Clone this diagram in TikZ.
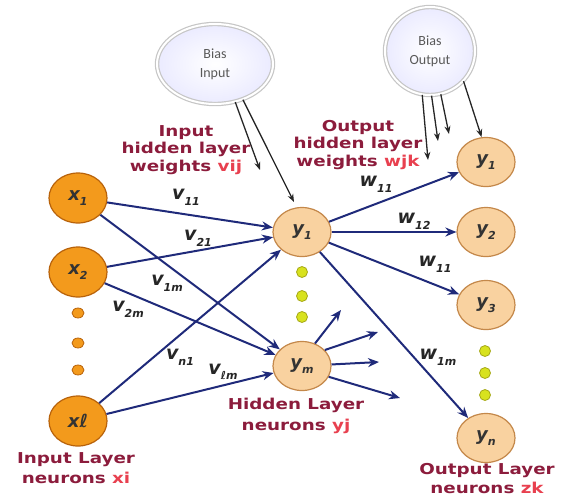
\documentclass[tikz,border=0pt]{standalone}
\usepackage{fontspec}
\setmainfont{DejaVu Sans}
\newfontfamily\lblfont{DejaVu Sans}[FakeStretch=1.22]
\newfontfamily\biasfont{Carlito}
\usetikzlibrary{shapes.geometric,arrows.meta}
\definecolor{navy}{HTML}{1F2A7A}
\definecolor{maroonlbl}{HTML}{8C1C3C}
\definecolor{hl}{HTML}{E8404F}
\definecolor{inorange}{HTML}{F39A1C}
\definecolor{inborder}{HTML}{B8620A}
\definecolor{peach}{HTML}{F9D2A0}
\definecolor{peachborder}{HTML}{C4884A}
\definecolor{ydot}{HTML}{D8E21E}
\definecolor{ydotborder}{HTML}{A6A818}
\newcommand\sbs[1]{\raisebox{-0.3em}{\fontsize{11}{11}\selectfont #1}}
\tikzset{
  inneuron/.style={ellipse, fill=inorange, draw=inborder, line width=1.2pt,
    minimum width=58pt, minimum height=50pt, inner sep=0pt,
    font=\bfseries\itshape\fontsize{18}{18}\selectfont, text=black!80},
  peachneuron/.style={ellipse, fill=peach, draw=peachborder, line width=1.2pt,
    minimum width=58pt, minimum height=49pt, inner sep=0pt,
    font=\bfseries\itshape\fontsize{18}{18}\selectfont, text=black!80},
  indot/.style={ellipse, fill=inorange, draw=inborder, line width=0.8pt,
    minimum width=12pt, minimum height=10pt, inner sep=0pt},
  ydotnode/.style={circle, fill=ydot, draw=ydotborder, line width=0.8pt,
    minimum size=11pt, inner sep=0pt},
  biasnode/.style={ellipse, draw=gray!45, line width=1.2pt, double=white,
    double distance=2pt, inner color=white, outer color=blue!8!white,
    inner sep=0pt, align=center, font=\biasfont\fontsize{14}{19}\selectfont,
    text=gray!70!black},
  layerlbl/.style={align=center, inner sep=0pt, text=maroonlbl,
    font=\lblfont\bfseries\fontsize{15}{17.5}\selectfont},
  wlab/.style={inner sep=0pt, text=black!85,
    font=\bfseries\itshape\fontsize{19}{19}\selectfont},
  conn/.style={navy, line width=2pt, -{Stealth[length=11pt,width=9pt]}},
  biasarrow/.style={black!85, line width=1.3pt, -{Stealth[length=8pt,width=6pt]}}
}
\begin{document}
\begin{tikzpicture}[x=1pt,y=-1pt]
\useasboundingbox (0,0) rectangle (562,499);
% bias ellipses
\node[biasnode, minimum width=116pt, minimum height=80pt] (bi) at (215,64) {Bias\\Input};
\node[biasnode, minimum width=90pt, minimum height=88pt] (bo) at (430,51) {Bias\\Output};
% input layer
\node[inneuron] (x1) at (78,198) {x\sbs{1}};
\node[inneuron] (x2) at (78,272) {x\sbs{2}};
\node[inneuron] (xl) at (78,421) {xℓ};
\node[indot] (id1) at (78,313) {};
\node[indot] (id2) at (78,343) {};
\node[indot] (id3) at (78,370) {};
% hidden layer
\node[peachneuron] (h1) at (302,232) {y\sbs{1}};
\node[peachneuron] (hm) at (302,366) {y\sbs{m}};
\node[ydotnode] (hd1) at (302,272) {};
\node[ydotnode] (hd2) at (302,296) {};
\node[ydotnode] (hd3) at (302,317) {};
% output layer
\node[peachneuron] (o1) at (486,162) {y\sbs{1}};
\node[peachneuron] (o2) at (486,232) {y\sbs{2}};
\node[peachneuron] (o3) at (486,305) {y\sbs{3}};
\node[peachneuron] (on) at (486,438) {y\sbs{n}};
\node[ydotnode] (od1) at (485,351) {};
\node[ydotnode] (od2) at (485,373) {};
\node[ydotnode] (od3) at (485,395) {};
% input -> hidden
\draw[conn] (x1) -- (h1);
\draw[conn] (x1) -- (hm);
\draw[conn] (x2) -- (h1);
\draw[conn] (x2) -- (hm);
\draw[conn] (xl) -- (h1);
\draw[conn] (xl) -- (hm);
% hidden -> output
\draw[conn] (h1) -- (o1);
\draw[conn, line width=2.6pt] (h1) -- (o2);
\draw[conn] (h1) -- (o3);
\draw[conn] (h1) -- (on);
% stubs from ym
\coordinate (s1) at (341,310);
\coordinate (s2) at (378,332);
\coordinate (s3) at (379,362);
\coordinate (s4) at (400,398);
\draw[conn] (hm.60) -- (s1);
\draw[conn] (hm.35) -- (s2);
\draw[conn] (hm.3) -- (s3);
\draw[conn] (hm.-22) -- (s4);
% bias arrows
\coordinate (bt1) at (260,170);
\coordinate (bt2) at (294,202);
\draw[biasarrow] (bi.-62) -- (bt1);
\draw[biasarrow] (bi.-52) -- (bt2);
\coordinate (bt3) at (428,160);
\coordinate (bt4) at (438,141);
\coordinate (bt5) at (449,134);
\draw[biasarrow] (bo.-100) -- (bt3);
\draw[biasarrow] (bo.-88) -- (bt4);
\draw[biasarrow] (bo.-76) -- (bt5);
\draw[biasarrow] (bo.-42) -- (o1.100);
% weight labels
\node[wlab] (lv11) at (186,197) {v\sbs{11}};
\node[wlab] (lv21) at (198,238) {v\sbs{21}};
\node[wlab] (lv1m) at (167,283) {v\sbs{1m}};
\node[wlab] (lv2m) at (128,309) {v\sbs{2m}};
\node[wlab] (lvn1) at (180,357) {v\sbs{n1}};
\node[wlab] (lvlm) at (223,372) {v\sbs{ℓm}};
\node[wlab] (lw11) at (376,184) {w\sbs{11}};
\node[wlab] (lw12) at (414,221) {w\sbs{12}};
\node[wlab] (lw13) at (435,264) {w\sbs{11}};
\node[wlab] (lw1m) at (438,357) {w\sbs{1m}};
% layer labels
\node[layerlbl] (lih) at (186,150) {Input\\hidden layer\\weights \textcolor{hl}{vij}};
\node[layerlbl] (loh) at (358,145) {Output\\hidden layer\\weights \textcolor{hl}{wjk}};
\node[layerlbl, font=\lblfont\bfseries\fontsize{15}{20}\selectfont] (lin) at (76,468) {Input Layer\\neurons \textcolor{hl}{xi}};
\node[layerlbl, font=\lblfont\bfseries\fontsize{15}{21}\selectfont] (lhid) at (296,416) {Hidden Layer\\neurons \textcolor{hl}{yj}};
\node[layerlbl, font=\lblfont\bfseries\fontsize{15}{19}\selectfont] (lout) at (487,479) {Output Layer\\neurons \textcolor{hl}{zk}};
\end{tikzpicture}
\end{document}
